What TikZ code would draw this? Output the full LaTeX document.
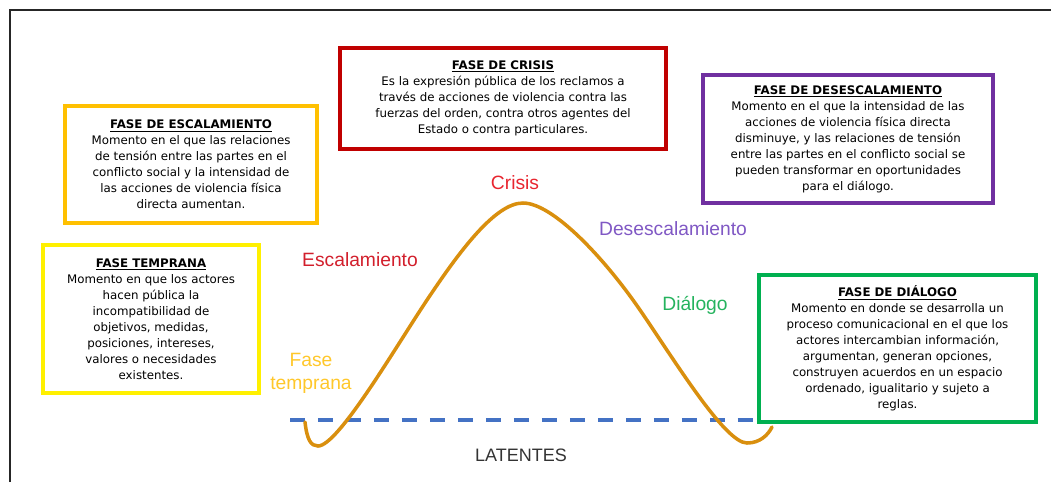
\documentclass[tikz,border=0pt]{standalone}
\usepackage{fontspec}
\setmainfont{DejaVu Sans}
\newfontfamily\labelfont{Liberation Sans}
\usetikzlibrary{positioning}
\definecolor{escalbox}{HTML}{FFC000}
\definecolor{crisisbox}{HTML}{C00000}
\definecolor{desescbox}{HTML}{7030A0}
\definecolor{tempbox}{HTML}{FFF000}
\definecolor{dialbox}{HTML}{00B050}
\definecolor{crisisred}{HTML}{E8252F}
\definecolor{escalred}{HTML}{D21F2C}
\definecolor{desescpurple}{HTML}{8058C4}
\definecolor{dialgreen}{HTML}{25B35E}
\definecolor{tempyellow}{HTML}{FFC72A}
\definecolor{curvegold}{HTML}{D98F0E}
\definecolor{latentblue}{HTML}{4472C4}
\tikzset{phasebox/.style={draw, line width=2.8pt, align=center, inner sep=0pt,
  font={\fontsize{8.4}{11.4}\selectfont}}}
\tikzset{curvelabel/.style={font={\labelfont\fontsize{13.7}{16.4}\selectfont}, align=center}}

\begin{document}
\begin{tikzpicture}[x=0.025cm, y=-0.025cm]
\useasboundingbox (0,0) rectangle (1051,482);
\draw[line width=1.2pt, black!85] (10,482) -- (10,10) -- (1051,10);
\node[phasebox, draw=escalbox, minimum width=6.3cm, minimum height=2.925cm] (escal) at (191,164.5)
  {\underline{\textbf{FASE DE ESCALAMIENTO}}\\Momento en el que las relaciones\\de tensión entre las partes en el\\conflicto social y la intensidad de\\las acciones de violencia física\\directa aumentan.};
\node[phasebox, draw=crisisbox, minimum width=8.15cm, minimum height=2.525cm] (crisis) at (503,98.5)
  {\underline{\textbf{FASE DE CRISIS}}\\Es la expresión pública de los reclamos a\\través de acciones de violencia contra las\\fuerzas del orden, contra otros agentes del\\Estado o contra particulares.};
\node[phasebox, draw=desescbox, minimum width=7.25cm, minimum height=3.2cm] (desesc) at (848,139)
  {\underline{\textbf{FASE DE DESESCALAMIENTO}}\\Momento en el que la intensidad de las\\acciones de violencia física directa\\disminuye, y las relaciones de tensión\\entre las partes en el conflicto social se\\pueden transformar en oportunidades\\para el diálogo.};
\node[phasebox, draw=tempbox, minimum width=5.4cm, minimum height=3.7cm] (temp) at (151,319)
  {\underline{\textbf{FASE TEMPRANA}}\\Momento en que los actores\\hacen pública la\\incompatibilidad de\\objetivos, medidas,\\posiciones, intereses,\\valores o necesidades\\existentes.};
\node[phasebox, draw=dialbox, minimum width=6.925cm, minimum height=3.675cm] (dial) at (897.5,348.5)
  {\underline{\textbf{FASE DE DIÁLOGO}}\\Momento en donde se desarrolla un\\proceso comunicacional en el que los\\actores intercambian información,\\argumentan, generan opciones,\\construyen acuerdos en un espacio\\ordenado, igualitario y sujeto a\\reglas.};
\node[curvelabel, text=crisisred] (lblcrisis) at (515,183) {Crisis};
\node[curvelabel, text=escalred] (lblescal) at (360,260) {Escalamiento};
\node[curvelabel, text=desescpurple] (lbldesesc) at (673,229) {Desescalamiento};
\node[curvelabel, text=dialgreen] (lbldial) at (695,305) {Diálogo};
\node[curvelabel, text=tempyellow] (lbltemp) at (311,373) {Fase\\temprana};
\node[curvelabel, text=black!80, font={\labelfont\fontsize{12.8}{15}\selectfont}] (lbllat) at (521,455) {LATENTES};
\coordinate (latstart) at (290,420);
\coordinate (latend) at (dial.west |- latstart);
\draw[latentblue, line width=2.5pt, dash pattern=on 10.7pt off 9.2pt] (latstart) -- (latend);
\draw[curvegold, line width=2.5pt, line cap=round]
  (305,422) .. controls (307,440) and (311,446) .. (318,446)
  .. controls (338,446) and (395,348) .. (427,300)
  .. controls (459,252) and (495,203) .. (523,203)
  .. controls (553,203) and (605,259) .. (640,310)
  .. controls (675,361) and (725,443) .. (747,443)
  .. controls (760,443) and (768,435) .. (772,427);
\end{tikzpicture}
\end{document}
